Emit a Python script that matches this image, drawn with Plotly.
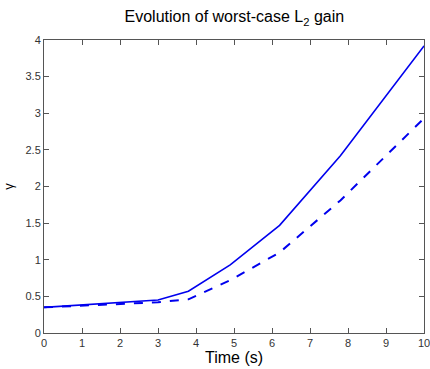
import plotly.graph_objects as go

time_s = [0, 1, 2, 3, 3.8, 4.9, 6.2, 7.8, 10]
gamma_worst = [0.35, 0.38, 0.42, 0.45, 0.57, 0.93, 1.47, 2.42, 3.92]
gamma_nominal = [0.35, 0.37, 0.40, 0.42, 0.46, 0.72, 1.10, 1.81, 2.93]
x_ticks = list(range(0, 11))
y_ticks = [0, 0.5, 1, 1.5, 2, 2.5, 3, 3.5, 4]
y_tick_text = ["0", "0.5", "1", "1.5", "2", "2.5", "3", "3.5", "4"]

fig = go.Figure()
fig.add_trace(go.Scatter(x=time_s, y=gamma_worst, mode="lines",
                         line=dict(color="#0000ee", width=1.6)))
fig.add_trace(go.Scatter(x=time_s, y=gamma_nominal, mode="lines",
                         line=dict(color="#0000ee", width=2, dash="dash")))

axis_common = dict(showgrid=False, zeroline=False, showline=True, linecolor="#555555",
                   linewidth=1, mirror="ticks", ticks="inside", ticklen=5,
                   tickcolor="#555555", ticklabeloverflow="allow", automargin=False,
                   tickfont=dict(family="Liberation Sans, Arial", size=11, color="#333333"))

fig.update_layout(
    width=430, height=369,
    margin=dict(l=44, r=6, t=40, b=36),
    paper_bgcolor="white", plot_bgcolor="white",
    showlegend=False,
    title=dict(text="Evolution of worst-case L<sub>2</sub> gain", x=0.545, xanchor="center",
               y=0.955, yanchor="middle",
               font=dict(family="Liberation Sans, Arial", size=16, color="black")),
    xaxis=dict(range=[0, 10], tickvals=x_ticks, title=dict(text="Time (s)", standoff=2,
               font=dict(family="Liberation Sans, Arial", size=16, color="black")), **axis_common),
    yaxis=dict(range=[0, 4], tickvals=y_ticks, ticktext=y_tick_text,
               title=dict(text="γ", standoff=8,
               font=dict(family="Liberation Sans, Arial", size=13, color="black")), **axis_common),
)
fig.write_html("out.html", config={"displayModeBar": False},
               post_script="document.body.style.margin='0px';document.body.style.overflow='hidden';")
